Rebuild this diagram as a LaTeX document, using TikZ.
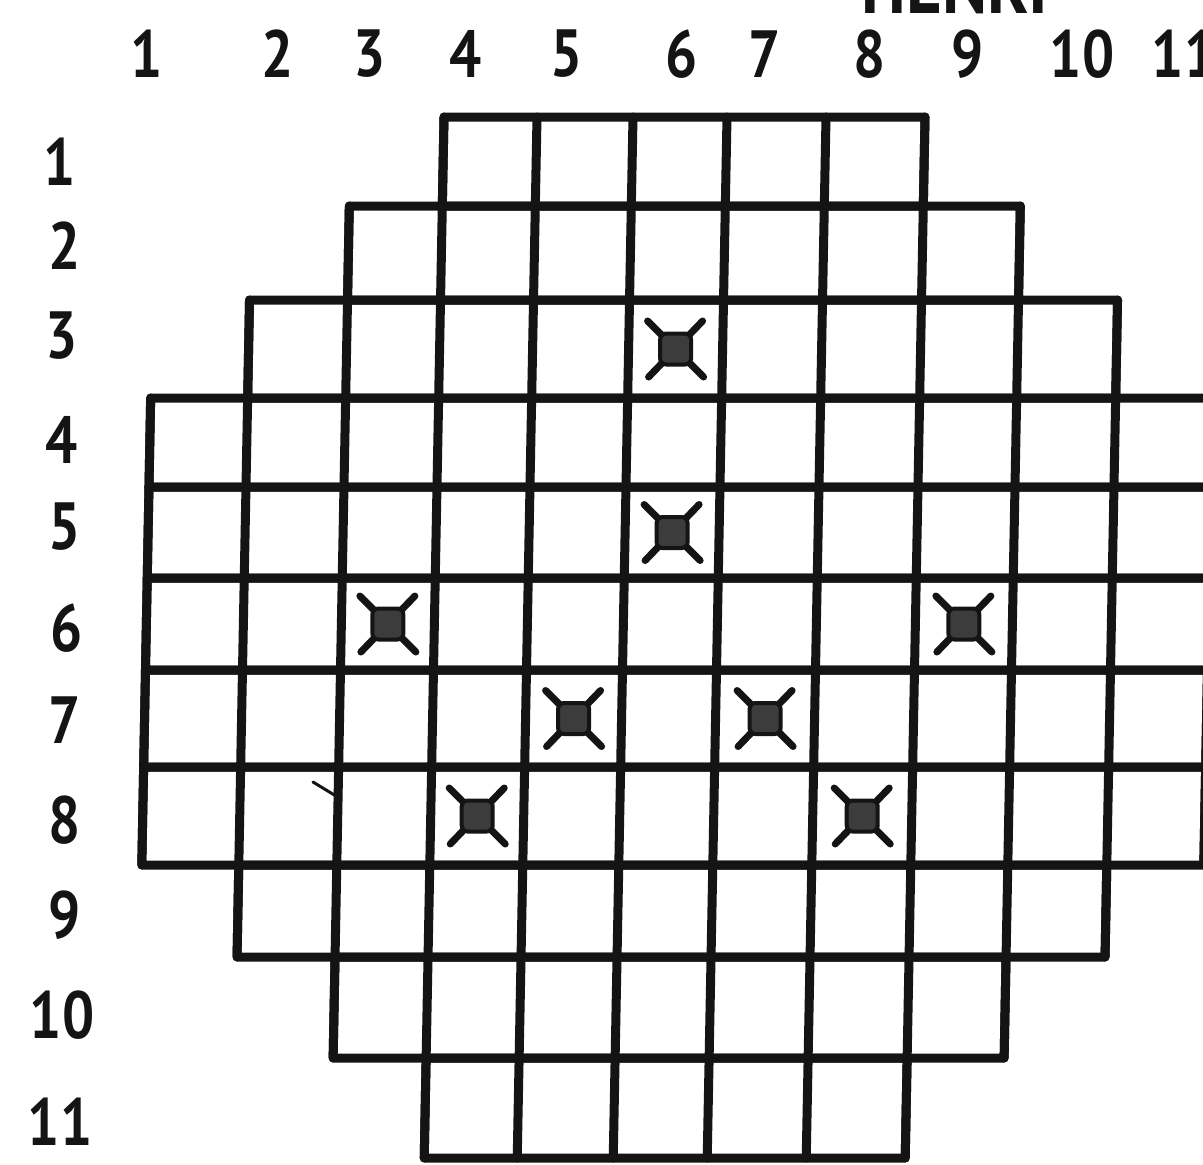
\documentclass[tikz,border=0pt]{standalone}
\usepackage{fontspec}
\usetikzlibrary{calc}
\newfontfamily\labfont[FakeStretch=0.85]{PT Sans}
\definecolor{ink}{HTML}{141414}
\definecolor{markgrey}{HTML}{3C3C3C}
\begin{document}
\begin{tikzpicture}[x=0.02cm,y=-0.02cm,
  gridline/.style={line width=0.18cm, line join=round, line cap=round, draw=ink},
  lab/.style={font=\labfont\bfseries\fontsize{38}{38}\selectfont, text=ink, inner sep=0pt},
  head/.style={font=\labfont\bfseries\fontsize{46}{46}\selectfont, text=ink, inner sep=0pt, anchor=base},
  xmkc/.style={fill=markgrey, draw=ink, line width=0.08cm, minimum size=0.62cm, inner sep=0pt, rounded corners=0.12cm},
  xmks/.style={line width=0.14cm, line cap=round, draw=ink},
  pen/.style={line width=0.06cm, line cap=round, draw=ink}]
\useasboundingbox[fill=white] (0,0) rectangle (1203,1164);
% header fragment (cut off at the top)
\node[head] (hdr) at (955,13) {HENRI};
% grid corner coordinates
\def\YY{{117,206,300,398,487,578,670,767,865,957,1058,1158}}
\def\XX{{156,253,351,444,537,633,727,826,925,1022,1121,1218}}
\foreach \k in {0,...,11}{
  \foreach \r in {0,...,11}{
    \pgfmathsetmacro\gy{\YY[\r]}
    \pgfmathsetmacro\gx{\XX[\k]-0.019*(\gy-117)}
    \coordinate (g-\k-\r) at (\gx,\gy);
  }
}
% rows of cells
\foreach \r/\a/\b in {1/3/8, 2/2/9, 3/1/10, 4/0/11, 5/0/11, 6/0/11, 7/0/11, 8/0/11, 9/1/10, 10/2/9, 11/3/8}{
  \pgfmathtruncatemacro\t{\r-1}
  \draw[gridline] (g-\a-\t) -- (g-\b-\t) -- (g-\b-\r) -- (g-\a-\r) -- cycle;
  \foreach \c in {\a,...,\b}{
    \draw[gridline] (g-\c-\t) -- (g-\c-\r);
  }
}
% marked cells
\foreach \r/\c [count=\i] in {3/6, 5/6, 6/3, 6/9, 7/5, 7/7, 8/4, 8/8}{
  \pgfmathtruncatemacro\rp{\r-1}
  \pgfmathtruncatemacro\cp{\c-1}
  \coordinate (mc\i) at ($(g-\cp-\rp)!0.5!(g-\c-\r)$);
  \draw[xmks] (mc\i) ++(-0.56cm,0.56cm) -- ++(1.12cm,-1.12cm);
  \draw[xmks] (mc\i) ++(-0.54cm,-0.56cm) -- ++(1.08cm,1.12cm);
  \node[xmkc] (mk\i) at (mc\i) {};
}
% column labels
\foreach \n/\x in {1/147, 2/278, 3/370, 4/466, 5/567, 6/682, 7/765, 8/870, 9/968, 10/1082, 11/1184}{
  \node[lab] (col\n) at (\x,54) {\n};
}
% row labels
\foreach \n/\x/\y in {1/60/162, 2/65/246, 3/62/336, 4/62/440, 5/65/527, 6/67/628, 7/65/720, 8/65/820, 9/65/915, 10/62/1015, 11/60/1122}{
  \node[lab] (row\n) at (\x,\y) {\n};
}
% small pen stroke in row 8
\coordinate (p1) at (313,782);
\coordinate (p2) at (336,796);
\draw[pen] (p1) -- (p2);
\end{tikzpicture}
\end{document}
